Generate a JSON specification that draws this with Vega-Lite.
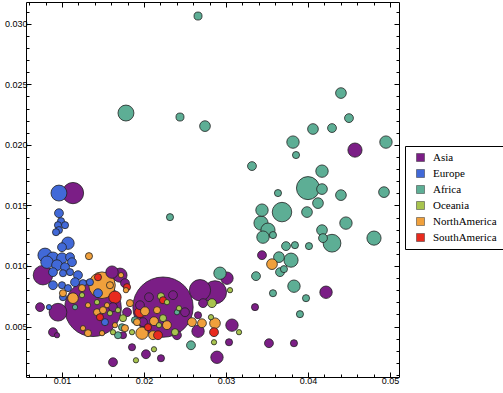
{
  "$schema": "https://vega.github.io/schema/vega-lite/v6.json",
  "width": 373,
  "height": 375,
  "autosize": {"type": "none"},
  "padding": {"left": 26, "top": 2, "right": 104, "bottom": 16},
  "background": "white",
  "config": {
    "view": {"stroke": "black", "strokeWidth": 1},
    "axis": {"domain": false, "grid": false, "tickColor": "black", "tickWidth": 1, "labelFont": "Liberation Sans", "labelFontSize": 9, "labelColor": "black", "title": null, "labelOverlap": false, "labelFlush": false}
  },
  "data": {"values": [
    {"region":"Asia","x":0.02232,"y":0.0066,"population":1300},
    {"region":"Asia","x":0.01378,"y":0.00651,"population":1150},
    {"region":"Asia","x":0.01134,"y":0.01602,"population":162},
    {"region":"Asia","x":0.00768,"y":0.00924,"population":136},
    {"region":"Asia","x":0.00732,"y":0.0066,"population":28},
    {"region":"Asia","x":0.0089,"y":0.00453,"population":28},
    {"region":"Asia","x":0.00939,"y":0.00428,"population":10},
    {"region":"Asia","x":0.00951,"y":0.00618,"population":113},
    {"region":"Asia","x":0.0161,"y":0.00949,"population":55},
    {"region":"Asia","x":0.01707,"y":0.00924,"population":72},
    {"region":"Asia","x":0.01768,"y":0.00858,"population":28},
    {"region":"Asia","x":0.01622,"y":0.0066,"population":28},
    {"region":"Asia","x":0.01793,"y":0.00618,"population":28},
    {"region":"Asia","x":0.01744,"y":0.00428,"population":18},
    {"region":"Asia","x":0.02061,"y":0.00742,"population":28},
    {"region":"Asia","x":0.01951,"y":0.00676,"population":28},
    {"region":"Asia","x":0.01988,"y":0.00536,"population":28},
    {"region":"Asia","x":0.02354,"y":0.00759,"population":28},
    {"region":"Asia","x":0.025,"y":0.00618,"population":28},
    {"region":"Asia","x":0.02402,"y":0.00428,"population":28},
    {"region":"Asia","x":0.02659,"y":0.00593,"population":18},
    {"region":"Asia","x":0.02659,"y":0.00461,"population":55},
    {"region":"Asia","x":0.02683,"y":0.008,"population":162},
    {"region":"Asia","x":0.02866,"y":0.00783,"population":190},
    {"region":"Asia","x":0.03012,"y":0.00899,"population":55},
    {"region":"Asia","x":0.0272,"y":0.00693,"population":28},
    {"region":"Asia","x":0.03073,"y":0.00511,"population":55},
    {"region":"Asia","x":0.03037,"y":0.0037,"population":18},
    {"region":"Asia","x":0.0289,"y":0.00246,"population":55},
    {"region":"Asia","x":0.01854,"y":0.00329,"population":18},
    {"region":"Asia","x":0.02024,"y":0.00271,"population":28},
    {"region":"Asia","x":0.02207,"y":0.00238,"population":18},
    {"region":"Asia","x":0.01622,"y":0.00205,"population":28},
    {"region":"Asia","x":0.03439,"y":0.01089,"population":28},
    {"region":"Asia","x":0.03354,"y":0.0066,"population":18},
    {"region":"Asia","x":0.0422,"y":0.00783,"population":55},
    {"region":"Asia","x":0.03524,"y":0.00362,"population":28},
    {"region":"Asia","x":0.03829,"y":0.00362,"population":18},
    {"region":"Asia","x":0.04573,"y":0.01957,"population":72},
    {"region":"Europe","x":0.00963,"y":0.01602,"population":91},
    {"region":"Europe","x":0.00963,"y":0.01436,"population":28},
    {"region":"Europe","x":0.00988,"y":0.0137,"population":18},
    {"region":"Europe","x":0.00951,"y":0.01337,"population":18},
    {"region":"Europe","x":0.01037,"y":0.01337,"population":18},
    {"region":"Europe","x":0.00963,"y":0.01296,"population":18},
    {"region":"Europe","x":0.00927,"y":0.01279,"population":18},
    {"region":"Europe","x":0.01073,"y":0.01188,"population":55},
    {"region":"Europe","x":0.01,"y":0.01155,"population":28},
    {"region":"Europe","x":0.00793,"y":0.01089,"population":72},
    {"region":"Europe","x":0.0089,"y":0.01064,"population":55},
    {"region":"Europe","x":0.01,"y":0.01064,"population":41},
    {"region":"Europe","x":0.01098,"y":0.01073,"population":28},
    {"region":"Europe","x":0.01122,"y":0.01031,"population":28},
    {"region":"Europe","x":0.00939,"y":0.01007,"population":41},
    {"region":"Europe","x":0.00817,"y":0.01031,"population":55},
    {"region":"Europe","x":0.01037,"y":0.0099,"population":28},
    {"region":"Europe","x":0.01098,"y":0.00949,"population":18},
    {"region":"Europe","x":0.01012,"y":0.0094,"population":18},
    {"region":"Europe","x":0.0089,"y":0.00949,"population":28},
    {"region":"Europe","x":0.01195,"y":0.00924,"population":28},
    {"region":"Europe","x":0.01159,"y":0.00866,"population":28},
    {"region":"Europe","x":0.0089,"y":0.00841,"population":28},
    {"region":"Europe","x":0.01,"y":0.00841,"population":18},
    {"region":"Europe","x":0.01073,"y":0.00817,"population":18},
    {"region":"Europe","x":0.01256,"y":0.00858,"population":18},
    {"region":"Europe","x":0.01341,"y":0.00866,"population":18},
    {"region":"Europe","x":0.01012,"y":0.00742,"population":18},
    {"region":"Europe","x":0.01439,"y":0.00775,"population":28},
    {"region":"Europe","x":0.00841,"y":0.0066,"population":10},
    {"region":"Europe","x":0.01524,"y":0.00536,"population":18},
    {"region":"Africa","x":0.02659,"y":0.03064,"population":23},
    {"region":"Africa","x":0.0178,"y":0.02263,"population":91},
    {"region":"Africa","x":0.02439,"y":0.0223,"population":23},
    {"region":"Africa","x":0.02744,"y":0.02155,"population":41},
    {"region":"Africa","x":0.04402,"y":0.02428,"population":41},
    {"region":"Africa","x":0.045,"y":0.02221,"population":28},
    {"region":"Africa","x":0.04061,"y":0.02131,"population":41},
    {"region":"Africa","x":0.04293,"y":0.02139,"population":28},
    {"region":"Africa","x":0.03817,"y":0.02023,"population":55},
    {"region":"Africa","x":0.03854,"y":0.01916,"population":18},
    {"region":"Africa","x":0.04951,"y":0.02023,"population":55},
    {"region":"Africa","x":0.03317,"y":0.01825,"population":28},
    {"region":"Africa","x":0.04171,"y":0.01783,"population":55},
    {"region":"Africa","x":0.04,"y":0.01643,"population":190},
    {"region":"Africa","x":0.04171,"y":0.01635,"population":41},
    {"region":"Africa","x":0.03634,"y":0.01602,"population":18},
    {"region":"Africa","x":0.04402,"y":0.01585,"population":41},
    {"region":"Africa","x":0.04927,"y":0.0161,"population":41},
    {"region":"Africa","x":0.04122,"y":0.01519,"population":41},
    {"region":"Africa","x":0.03988,"y":0.01445,"population":41},
    {"region":"Africa","x":0.03683,"y":0.01445,"population":136},
    {"region":"Africa","x":0.03439,"y":0.01461,"population":55},
    {"region":"Africa","x":0.03427,"y":0.01354,"population":72},
    {"region":"Africa","x":0.03512,"y":0.01296,"population":72},
    {"region":"Africa","x":0.03451,"y":0.01238,"population":55},
    {"region":"Africa","x":0.03573,"y":0.01255,"population":18},
    {"region":"Africa","x":0.04463,"y":0.01354,"population":55},
    {"region":"Africa","x":0.04805,"y":0.0123,"population":72},
    {"region":"Africa","x":0.04171,"y":0.01296,"population":41},
    {"region":"Africa","x":0.04183,"y":0.0123,"population":28},
    {"region":"Africa","x":0.04293,"y":0.01188,"population":113},
    {"region":"Africa","x":0.03732,"y":0.01164,"population":28},
    {"region":"Africa","x":0.03841,"y":0.01172,"population":18},
    {"region":"Africa","x":0.04012,"y":0.01164,"population":18},
    {"region":"Africa","x":0.03646,"y":0.01073,"population":41},
    {"region":"Africa","x":0.03793,"y":0.01048,"population":72},
    {"region":"Africa","x":0.03659,"y":0.00949,"population":28},
    {"region":"Africa","x":0.03707,"y":0.00974,"population":18},
    {"region":"Africa","x":0.03366,"y":0.00916,"population":28},
    {"region":"Africa","x":0.03829,"y":0.00833,"population":55},
    {"region":"Africa","x":0.03573,"y":0.00775,"population":18},
    {"region":"Africa","x":0.03976,"y":0.00734,"population":18},
    {"region":"Africa","x":0.03902,"y":0.00602,"population":18},
    {"region":"Africa","x":0.02927,"y":0.0094,"population":55},
    {"region":"Africa","x":0.02573,"y":0.00345,"population":28},
    {"region":"Africa","x":0.02317,"y":0.01403,"population":18},
    {"region":"Africa","x":0.01159,"y":0.0066,"population":10},
    {"region":"Africa","x":0.01732,"y":0.00494,"population":18},
    {"region":"Africa","x":0.01683,"y":0.00428,"population":18},
    {"region":"Africa","x":0.0189,"y":0.00552,"population":18},
    {"region":"Africa","x":0.02402,"y":0.00618,"population":10},
    {"region":"Oceania","x":0.03049,"y":0.008,"population":10},
    {"region":"Oceania","x":0.02829,"y":0.00693,"population":28},
    {"region":"Oceania","x":0.02817,"y":0.00577,"population":10},
    {"region":"Oceania","x":0.03159,"y":0.00453,"population":10},
    {"region":"Oceania","x":0.02854,"y":0.0037,"population":10},
    {"region":"Oceania","x":0.02207,"y":0.0075,"population":18},
    {"region":"Oceania","x":0.0228,"y":0.00701,"population":10},
    {"region":"Oceania","x":0.02427,"y":0.00651,"population":10},
    {"region":"Oceania","x":0.02232,"y":0.00569,"population":18},
    {"region":"Oceania","x":0.02183,"y":0.00511,"population":10},
    {"region":"Oceania","x":0.02378,"y":0.00453,"population":18},
    {"region":"Oceania","x":0.01244,"y":0.00759,"population":10},
    {"region":"Oceania","x":0.01427,"y":0.00701,"population":10},
    {"region":"Oceania","x":0.01585,"y":0.0061,"population":10},
    {"region":"Oceania","x":0.01744,"y":0.00569,"population":18},
    {"region":"Oceania","x":0.01622,"y":0.00453,"population":10},
    {"region":"Oceania","x":0.01854,"y":0.00453,"population":10},
    {"region":"Oceania","x":0.01683,"y":0.00635,"population":10},
    {"region":"Oceania","x":0.02122,"y":0.00312,"population":10},
    {"region":"Oceania","x":0.01902,"y":0.00221,"population":10},
    {"region":"NorthAmerica","x":0.01329,"y":0.01081,"population":18},
    {"region":"NorthAmerica","x":0.01488,"y":0.00841,"population":253},
    {"region":"NorthAmerica","x":0.01585,"y":0.00841,"population":18},
    {"region":"NorthAmerica","x":0.0172,"y":0.00924,"population":10},
    {"region":"NorthAmerica","x":0.0178,"y":0.008,"population":10},
    {"region":"NorthAmerica","x":0.01244,"y":0.00817,"population":18},
    {"region":"NorthAmerica","x":0.01012,"y":0.00775,"population":18},
    {"region":"NorthAmerica","x":0.01134,"y":0.00734,"population":41},
    {"region":"NorthAmerica","x":0.01317,"y":0.00676,"population":10},
    {"region":"NorthAmerica","x":0.01427,"y":0.00618,"population":18},
    {"region":"NorthAmerica","x":0.015,"y":0.00635,"population":18},
    {"region":"NorthAmerica","x":0.01549,"y":0.00676,"population":10},
    {"region":"NorthAmerica","x":0.01646,"y":0.00511,"population":10},
    {"region":"NorthAmerica","x":0.01768,"y":0.00486,"population":18},
    {"region":"NorthAmerica","x":0.01488,"y":0.00445,"population":10},
    {"region":"NorthAmerica","x":0.01317,"y":0.00445,"population":18},
    {"region":"NorthAmerica","x":0.01256,"y":0.00486,"population":10},
    {"region":"NorthAmerica","x":0.01829,"y":0.00693,"population":18},
    {"region":"NorthAmerica","x":0.02012,"y":0.00626,"population":28},
    {"region":"NorthAmerica","x":0.02159,"y":0.00635,"population":18},
    {"region":"NorthAmerica","x":0.01915,"y":0.00536,"population":18},
    {"region":"NorthAmerica","x":0.01976,"y":0.00445,"population":55},
    {"region":"NorthAmerica","x":0.0211,"y":0.00428,"population":28},
    {"region":"NorthAmerica","x":0.0228,"y":0.00511,"population":28},
    {"region":"NorthAmerica","x":0.02122,"y":0.00544,"population":28},
    {"region":"NorthAmerica","x":0.02585,"y":0.00536,"population":28},
    {"region":"NorthAmerica","x":0.02707,"y":0.00527,"population":28},
    {"region":"NorthAmerica","x":0.02866,"y":0.00527,"population":41},
    {"region":"NorthAmerica","x":0.03561,"y":0.01015,"population":41},
    {"region":"SouthAmerica","x":0.01439,"y":0.00907,"population":18},
    {"region":"SouthAmerica","x":0.01646,"y":0.00742,"population":55},
    {"region":"SouthAmerica","x":0.01793,"y":0.00825,"population":18},
    {"region":"SouthAmerica","x":0.01463,"y":0.00577,"population":18},
    {"region":"SouthAmerica","x":0.02232,"y":0.00717,"population":18},
    {"region":"SouthAmerica","x":0.01951,"y":0.00618,"population":41},
    {"region":"SouthAmerica","x":0.02049,"y":0.00494,"population":18},
    {"region":"SouthAmerica","x":0.02171,"y":0.00428,"population":28},
    {"region":"SouthAmerica","x":0.02854,"y":0.00453,"population":28}
  ]},
  "resolve": {"axis": {"x": "independent", "y": "independent"}},
  "layer": [
    {
      "mark": {"type": "circle", "opacity": 1, "stroke": "#222222", "strokeWidth": 0.8, "clip": true},
      "encoding": {
        "x": {"field": "x", "type": "quantitative",
          "scale": {"domain": [0.00561, 0.0511], "nice": false, "zero": false},
          "axis": {"orient": "bottom",
            "values": [0.006,0.008,0.01,0.012,0.014,0.016,0.018,0.02,0.022,0.024,0.026,0.028,0.03,0.032,0.034,0.036,0.038,0.04,0.042,0.044,0.046,0.048,0.05],
            "labelExpr": "abs(datum.value*100 - round(datum.value*100)) < 0.001 ? format(datum.value, '.2f') : ''",
            "tickSize": {"condition": {"test": "abs(datum.value*100 - round(datum.value*100)) < 0.001", "value": -5}, "value": -3},
            "labelPadding": 4}},
        "y": {"field": "y", "type": "quantitative",
          "scale": {"domain": [0.00083, 0.0318], "nice": false, "zero": false},
          "axis": {"orient": "left",
            "values": [0.001,0.002,0.003,0.004,0.005,0.006,0.007,0.008,0.009,0.01,0.011,0.012,0.013,0.014,0.015,0.016,0.017,0.018,0.019,0.02,0.021,0.022,0.023,0.024,0.025,0.026,0.027,0.028,0.029,0.03,0.031],
            "labelExpr": "abs(datum.value*200 - round(datum.value*200)) < 0.001 ? format(datum.value, '.3f') : ''",
            "tickSize": {"condition": {"test": "abs(datum.value*200 - round(datum.value*200)) < 0.001", "value": -5}, "value": -3},
            "labelPadding": 4}},
        "size": {"field": "population", "type": "quantitative", "scale": {"domain": [0, 1300], "range": [0, 3632]}, "legend": null},
        "color": {"field": "region", "type": "nominal",
          "scale": {"domain": ["Asia", "Europe", "Africa", "Oceania", "NorthAmerica", "SouthAmerica"],
                    "range": ["#7B1E86", "#4169D8", "#5DAE95", "#A8C44E", "#F0A03C", "#E82A1E"]},
          "legend": {"orient": "none", "legendX": 379, "legendY": 144, "title": null, "symbolType": "square", "symbolSize": 64,
            "symbolStrokeColor": "#333333", "symbolStrokeWidth": 0.5, "symbolOpacity": 1,
            "labelFont": "Liberation Serif", "labelFontSize": 11, "labelColor": "black",
            "strokeColor": "black", "fillColor": "white", "padding": 6, "symbolOffset": 4, "labelOffset": 7, "rowPadding": 4}},
        "order": {"field": "population", "type": "quantitative", "sort": "descending"}
      }
    },
    {
      "mark": {"type": "circle", "opacity": 0},
      "encoding": {
        "x": {"field": "x", "type": "quantitative",
          "axis": {"orient": "top", "labels": false,
            "values": [0.006,0.008,0.01,0.012,0.014,0.016,0.018,0.02,0.022,0.024,0.026,0.028,0.03,0.032,0.034,0.036,0.038,0.04,0.042,0.044,0.046,0.048,0.05],
            "tickSize": {"condition": {"test": "abs(datum.value*100 - round(datum.value*100)) < 0.001", "value": -5}, "value": -3}}},
        "y": {"field": "y", "type": "quantitative",
          "axis": {"orient": "right", "labels": false,
            "values": [0.001,0.002,0.003,0.004,0.005,0.006,0.007,0.008,0.009,0.01,0.011,0.012,0.013,0.014,0.015,0.016,0.017,0.018,0.019,0.02,0.021,0.022,0.023,0.024,0.025,0.026,0.027,0.028,0.029,0.03,0.031],
            "tickSize": {"condition": {"test": "abs(datum.value*200 - round(datum.value*200)) < 0.001", "value": -5}, "value": -3}}}
      }
    }
  ]
}
